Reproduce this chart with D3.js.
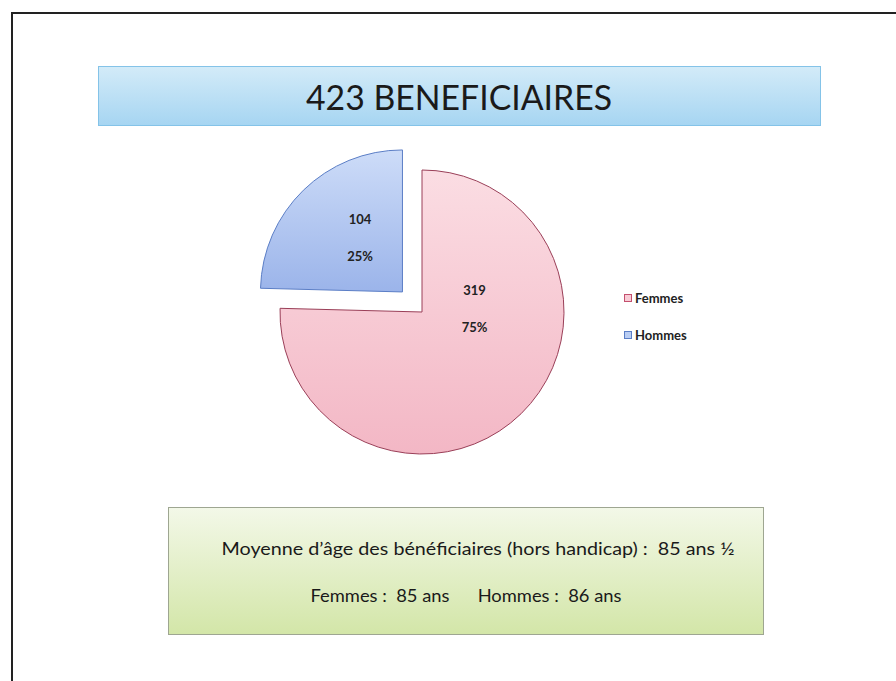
<!DOCTYPE html>
<html><head><meta charset="utf-8">
<script src="https://cdn.jsdelivr.net/npm/d3@7"></script>
<style>html,body{margin:0;padding:0;background:#fff;}svg{display:block;}text{white-space:pre;}</style>
</head><body>
<script>
const categories = ["Femmes", "Hommes"];
const values = [319, 104];
const percentLabels = ["75%", "25%"];
const titleText = "423 BENEFICIAIRES";
const infoLines = ["Moyenne d\u2019\u00e2ge des b\u00e9n\u00e9ficiaires (hors handicap) :  85 ans \u00bd",
                   "Femmes :  85 ans      Hommes :  86 ans"];

const W = 896, H = 681;
const svg = d3.select("body").append("svg").attr("width", W).attr("height", H);
const defs = svg.append("defs");
function grad(id, c1, c2) {
  const g = defs.append("linearGradient").attr("id", id).attr("x1", 0).attr("y1", 0).attr("x2", 0).attr("y2", 1);
  g.append("stop").attr("offset", "0%").attr("stop-color", c1);
  g.append("stop").attr("offset", "100%").attr("stop-color", c2);
}
grad("gTitle", "#d3ebf8", "#a6d5f2");
grad("gInfo", "#f3f8e8", "#d3e6a8");
grad("gPink", "#fbdde3", "#f3b7c5");
grad("gBlue", "#cddcf8", "#9bb4ea");

svg.append("rect").attr("width", W).attr("height", H).attr("fill", "#fff");
// frame
svg.append("path").attr("d", `M12,${H} L12,13 L${W},13`).attr("fill", "none").attr("stroke", "#222").attr("stroke-width", 2);

const font = "Lato, 'Open Sans', sans-serif";
// title box
svg.append("rect").attr("x", 98.5).attr("y", 66.5).attr("width", 722).attr("height", 59)
  .attr("fill", "url(#gTitle)").attr("stroke", "#84c3e8").attr("stroke-width", 1);
svg.append("text").attr("x", 459).attr("y", 110).attr("text-anchor", "middle")
  .attr("font-family", font).attr("font-size", 35).attr("fill", "#1a1a1a")
  .attr("textLength", 306).attr("lengthAdjust", "spacingAndGlyphs").text(titleText);

// pie
const R = 142;
const cx = 422, cy = 312;
const pie = d3.pie().sort(null).startAngle(0).endAngle(2 * Math.PI);
const arcs = pie(values);
const arc = d3.arc().innerRadius(0).outerRadius(R);
const fills = ["url(#gPink)", "url(#gBlue)"];
const strokes = ["#9a3f58", "#5b7ec6"];
const explode = [0, 28];
const labelRad = [0.37 * R, 0.48 * R];
const labelAngleShift = [-0.83, 0.1];

const g = svg.append("g").attr("transform", `translate(${cx},${cy})`);
arcs.forEach((d, i) => {
  const mid = (d.startAngle + d.endAngle) / 2;
  const [ox, oy] = d3.pointRadial(mid, explode[i]);
  const sg = g.append("g").attr("transform", `translate(${ox},${oy})`);
  sg.append("path").attr("d", arc(d)).attr("fill", fills[i]).attr("stroke", strokes[i]).attr("stroke-width", 1);
  const [lx, ly] = d3.pointRadial(mid + labelAngleShift[i], labelRad[i]);
  sg.append("text").attr("x", lx).attr("y", ly - 15).attr("text-anchor", "middle")
    .attr("font-family", font).attr("font-weight", "bold").attr("font-size", 13).attr("fill", "#222").text(values[i]);
  sg.append("text").attr("x", lx).attr("y", ly + 22).attr("text-anchor", "middle")
    .attr("font-family", font).attr("font-weight", "bold").attr("font-size", 13).attr("fill", "#222").text(percentLabels[i]);
});

// legend
const legendColors = [["#f8ccd6", "#c4506e"], ["#b9cdf3", "#5b7ec6"]];
const lg = svg.append("g").attr("transform", "translate(624,294)");
const ly = d3.scalePoint().domain(categories).range([0, 37]);
categories.forEach((c, i) => {
  lg.append("rect").attr("x", 0.5).attr("y", ly(c) + 0.5).attr("width", 7).attr("height", 7)
    .attr("fill", legendColors[i][0]).attr("stroke", legendColors[i][1]).attr("stroke-width", 1);
  lg.append("text").attr("x", 11).attr("y", ly(c) + 8.5).attr("font-family", font).attr("font-weight", "bold")
    .attr("font-size", 13).attr("fill", "#222").text(c);
});

// info box
svg.append("rect").attr("x", 168.5).attr("y", 507.5).attr("width", 595).attr("height", 127)
  .attr("fill", "url(#gInfo)").attr("stroke", "#9ea691").attr("stroke-width", 1);
svg.append("text").attr("x", 478).attr("y", 555).attr("text-anchor", "middle")
  .attr("font-family", font).attr("font-size", 17).attr("fill", "#1a1a1a")
  .attr("textLength", 513).attr("lengthAdjust", "spacingAndGlyphs").text(infoLines[0]);
svg.append("text").attr("x", 466).attr("y", 602).attr("text-anchor", "middle")
  .attr("font-family", font).attr("font-size", 17).attr("fill", "#1a1a1a")
  .attr("textLength", 311).attr("lengthAdjust", "spacingAndGlyphs").text(infoLines[1]);
</script>
</body></html>
